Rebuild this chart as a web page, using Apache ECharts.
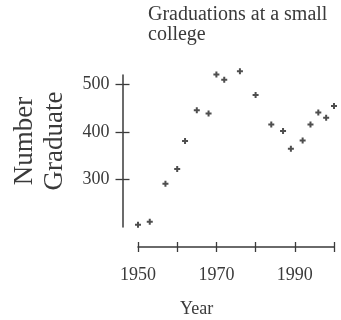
<!DOCTYPE html>
<html>
<head>
<meta charset="utf-8">
<script src="https://cdn.jsdelivr.net/npm/echarts@6/dist/echarts.min.js"></script>
<style>
  html, body { margin: 0; padding: 0; background: #fff; }
  #main { width: 341px; height: 320px; }
</style>
</head>
<body>
<div id="main"></div>
<script>
// data
var years = [1950, 1953, 1957, 1960, 1962, 1965, 1968, 1970, 1972, 1976,
  1980, 1984, 1987, 1989, 1992, 1994, 1996, 1998, 2000];
var graduates = [205, 211, 291, 322, 381, 446, 439, 521, 510, 528,
  478, 416, 402, 365, 382, 416, 441, 430, 455];
var xTicks = [1950, 1960, 1970, 1980, 1990, 2000];
var xLabels = [1950, 1970, 1990];
var yTicks = [300, 400, 500];

var chart = echarts.init(document.getElementById('main'));
var serif = 'Liberation Serif';
var ink = '#3a3a3a';

var points = years.map(function (y, i) { return [y, graduates[i]]; });

function xAxisOf(inside) {
  return {
    type: 'value',
    min: 1950,
    max: 2000,
    interval: 10,
    position: 'bottom',
    offset: 20,
    axisLine: { show: !inside, lineStyle: { color: ink, width: 1.5 } },
    axisTick: { show: true, inside: inside, length: 5, customValues: xTicks,
      lineStyle: { color: ink, width: 1.3 } },
    axisLabel: { show: !inside, customValues: xLabels, margin: 19,
      formatter: function (v) { return String(v); },
      fontFamily: serif, fontSize: 18, color: ink },
    splitLine: { show: false }
  };
}

function yAxisOf(inside) {
  return {
    type: 'value',
    min: 200,
    max: 520,
    interval: 100,
    position: 'left',
    offset: 15.5,
    axisLine: { show: !inside, lineStyle: { color: ink, width: 1.5 } },
    axisTick: { show: true, inside: inside, length: 7, customValues: yTicks,
      lineStyle: { color: ink, width: 1.3 } },
    axisLabel: { show: !inside, customValues: yTicks, margin: 13,
      fontFamily: serif, fontSize: 18, color: ink },
    splitLine: { show: false }
  };
}

var option = {
  animation: false,
  backgroundColor: '#fff',
  title: [
    {
      text: 'Graduations at a small\ncollege',
      left: 143,
      top: 0,
      textStyle: { fontFamily: serif, fontSize: 20, fontWeight: 'normal',
        color: ink, lineHeight: 20 }
    },
    {
      text: 'Year',
      left: 175,
      top: 295,
      textStyle: { fontFamily: serif, fontSize: 18, fontWeight: 'normal', color: ink }
    }
  ],
  graphic: [{
    type: 'text',
    x: 40,
    y: 141,
    rotation: Math.PI / 2,
    style: {
      text: 'Number\nGraduate',
      font: '27px "Liberation Serif"',
      fill: ink,
      align: 'center',
      verticalAlign: 'middle',
      lineHeight: 30
    }
  }],
  grid: { left: 138, right: 7, top: 75, bottom: 93 },
  xAxis: [xAxisOf(false), xAxisOf(true)],
  yAxis: [yAxisOf(false), yAxisOf(true)],
  series: [{
    type: 'scatter',
    clip: false,
    data: points,
    symbol: 'path://M2,0H4V2H6V4H4V6H2V4H0V2H2Z',
    symbolSize: 6,
    itemStyle: { color: '#222' }
  }]
};

chart.setOption(option);
</script>
</body>
</html>
